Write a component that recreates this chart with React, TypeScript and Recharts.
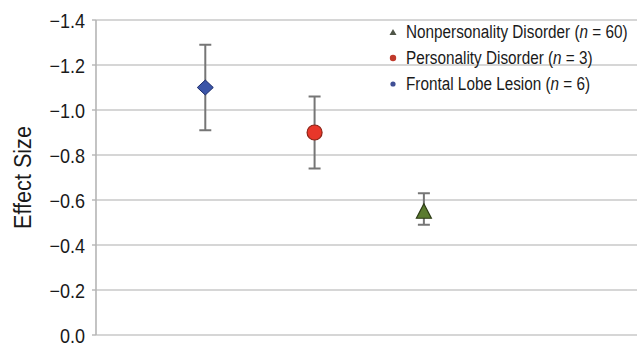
import { CartesianGrid, ErrorBar, Scatter, ScatterChart, XAxis, YAxis } from "recharts"

// groups, left to right along the x axis
const groups = ["Frontal Lobe Lesion", "Personality Disorder", "Nonpersonality Disorder"]
const groupN = [6, 3, 60]
const groupPos = [1, 2, 3]
const effectSizes = [-1.1, -0.9, -0.55]
// confidence limits (more negative end first)
const ciLow = [-1.29, -1.06, -0.63]
const ciHigh = [-0.91, -0.74, -0.49]

const yTicks = [-1.4, -1.2, -1.0, -0.8, -0.6, -0.4, -0.2, 0]

const fills = ["#3b55a8", "#e8372a", "#5b7b2f"]
const strokes = ["#1e2d6b", "#8e2417", "#2c3b15"]
const legendDots = ["#3f4f95", "#c0392b", "#4f5548"]

const FONT = "'Liberation Sans', Arial, sans-serif"
// no condensed face installed, so text is squeezed horizontally
const SQUEEZE = 0.85

const seriesData = groups.map((g, i) => [
    {
        x: groupPos[i],
        y: effectSizes[i],
        err: [effectSizes[i] - ciLow[i], ciHigh[i] - effectSizes[i]],
    },
])

const Diamond = ({ cx, cy }: any) => (
    <polygon
        points={`${cx},${cy - 7.5} ${cx + 8},${cy} ${cx},${cy + 7.5} ${cx - 8},${cy}`}
        fill={fills[0]}
        stroke={strokes[0]}
        strokeWidth={1}
    />
)

const Dot = ({ cx, cy }: any) => (
    <circle cx={cx} cy={cy} r={7.5} fill={fills[1]} stroke={strokes[1]} strokeWidth={1.2} />
)

const Triangle = ({ cx, cy }: any) => (
    <polygon
        points={`${cx},${cy - 7.5} ${cx + 7.5},${cy + 7} ${cx - 7.5},${cy + 7}`}
        fill={fills[2]}
        stroke={strokes[2]}
        strokeWidth={1.2}
    />
)

const shapes = [Diamond, Dot, Triangle]

const fmtTick = (v: number) => (v === 0 ? "0.0" : "\u2212" + Math.abs(v).toFixed(1))

const YTick = ({ x, y, payload }: any) => (
    <text
        transform={`translate(${x}, ${y + 1}) scale(0.9, 1)`}
        textAnchor="end"
        dominantBaseline="central"
        fontSize={20}
        fill="#1a1a1a"
    >
        {fmtTick(payload.value)}
    </text>
)

const YLabel = ({ viewBox }: any) => {
    const cy = viewBox.y + viewBox.height / 2
    return (
        <text
            transform={`translate(23, ${cy}) rotate(-90) scale(0.9, 1)`}
            textAnchor="middle"
            dominantBaseline="central"
            fontSize={24}
            fill="#1a1a1a"
        >
            Effect Size
        </text>
    )
}

// legend lists the groups bottom-up (triangle first)
const legendOrder = [2, 1, 0]

function LegendBox() {
    return (
        <div style={{ position: "absolute", left: 386, top: 18.5, fontSize: 18, color: "#1a1a1a" }}>
            {legendOrder.map((i) => (
                <div key={i} style={{ height: 26, lineHeight: "26px", display: "flex", alignItems: "center", whiteSpace: "nowrap" }}>
                    <svg width={14} height={10} style={{ marginRight: 6, flexShrink: 0 }}>
                        {i === 2 ? (
                            <polygon points="7,2 10.5,8 3.5,8" fill={legendDots[i]} />
                        ) : (
                            <circle cx={7} cy={5} r={i === 1 ? 3.2 : 2.6} fill={legendDots[i]} />
                        )}
                    </svg>
                    <span style={{ display: "inline-block", transform: `scaleX(${SQUEEZE})`, transformOrigin: "left center" }}>
                        {groups[i]} (<i>n</i> = {groupN[i]})
                    </span>
                </div>
            ))}
        </div>
    )
}

export default function App() {
    return (
        <div style={{ position: "absolute", left: 0, top: 0, width: 637, height: 348, fontFamily: FONT, background: "#fff" }}>
            <ScatterChart width={637} height={348} margin={{ top: 20, right: 0, bottom: 13, left: 0 }}>
                <CartesianGrid vertical={false} stroke="#c8c8c8" strokeWidth={1.6} />
                <XAxis type="number" dataKey="x" domain={[0, 4.95]} hide />
                <YAxis
                    type="number"
                    dataKey="y"
                    domain={[-1.4, 0]}
                    ticks={yTicks}
                    reversed
                    width={96}
                    tickSize={4}
                    tickMargin={7}
                    tick={<YTick />}
                    axisLine={{ stroke: "#b5b5b5", strokeWidth: 1.6 }}
                    tickLine={{ stroke: "#b5b5b5", strokeWidth: 1.4 }}
                    label={<YLabel />}
                />
                {groups.map((g, i) => {
                    const Shape = shapes[i]
                    return (
                        <Scatter
                            key={g}
                            name={g}
                            data={seriesData[i]}
                            isAnimationActive={false}
                            shape={(p: any) => <Shape cx={p.cx} cy={p.cy} />}
                        >
                            <ErrorBar dataKey="err" direction="y" width={6} stroke="#767676" strokeWidth={2} />
                        </Scatter>
                    )
                })}
            </ScatterChart>
            <LegendBox />
        </div>
    )
}
